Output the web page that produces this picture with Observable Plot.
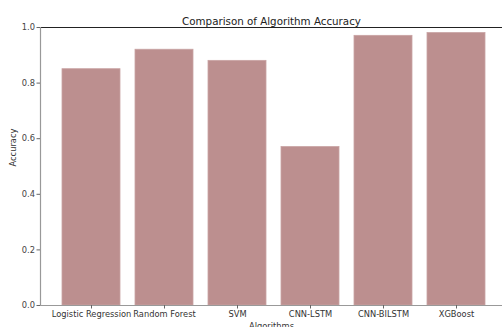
<!DOCTYPE html>
<html>
<head>
<meta charset="utf-8">
<script src="https://cdn.jsdelivr.net/npm/d3@7"></script>
<script src="https://cdn.jsdelivr.net/npm/@observablehq/plot@0.6"></script>
<style>
  html, body { margin: 0; padding: 0; background: #fff; overflow: hidden; }
  svg { display: block; }
</style>
</head>
<body>
<div id="chart"></div>
<script>
const algorithms = ["Logistic Regression", "Random Forest", "SVM", "CNN-LSTM", "CNN-BILSTM", "XGBoost"];
const accuracy = [0.85, 0.92, 0.88, 0.57, 0.97, 0.98];
const yTicks = [0, 0.2, 0.4, 0.6, 0.8, 1.0];
const titleText = "Comparison of Algorithm Accuracy";
const xLabel = "Algorithms";
const yLabel = "Accuracy";

const data = algorithms.map((a, i) => ({algorithm: a, accuracy: accuracy[i]}));
const font = "DejaVu Sans, sans-serif";

const plot = Plot.plot({
  width: 502,
  height: 327,
  marginTop: 27,
  marginBottom: 22,
  marginLeft: 40,
  marginRight: 0,
  style: {fontFamily: font, fontSize: "8.3px", color: "#333", background: "#fff", overflow: "visible"},
  x: {domain: algorithms, range: [40, 506.5], paddingInner: 0.2, paddingOuter: 0.29, label: null},
  y: {domain: [0, 1], label: null},
  marks: [
    Plot.barY(data, {x: "algorithm", y: "accuracy", fill: "#bc8f8f", stroke: "#c9a3a3", strokeWidth: 0.8}),
    Plot.ruleY([1], {stroke: "#222", strokeWidth: 1.2}),
    Plot.ruleY([0], {stroke: "#999", strokeWidth: 1.2}),
    Plot.frame({anchor: "left", stroke: "#999", strokeWidth: 1.2}),
    Plot.axisY(yTicks, {tickFormat: d3.format(".1f"), tickSize: 3.5, tickPadding: 2, stroke: "#666", fill: "#444", label: null, fontSize: 8.3}),
    Plot.axisX({tickSize: 3.5, tickPadding: 2, stroke: "#666", fill: "#333", label: null, fontSize: 8.3}),
    Plot.text([titleText], {frameAnchor: "top", dy: -10, fontSize: 10.3, fill: "#222", textAnchor: "middle"}),
    Plot.text([xLabel], {frameAnchor: "bottom", dy: 23, fontSize: 8.3, fill: "#333"}),
    Plot.text([yLabel], {frameAnchor: "left", dx: -27, rotate: -90, fontSize: 8.3, fill: "#333"})
  ]
});
document.getElementById("chart").appendChild(plot);
</script>
</body>
</html>
